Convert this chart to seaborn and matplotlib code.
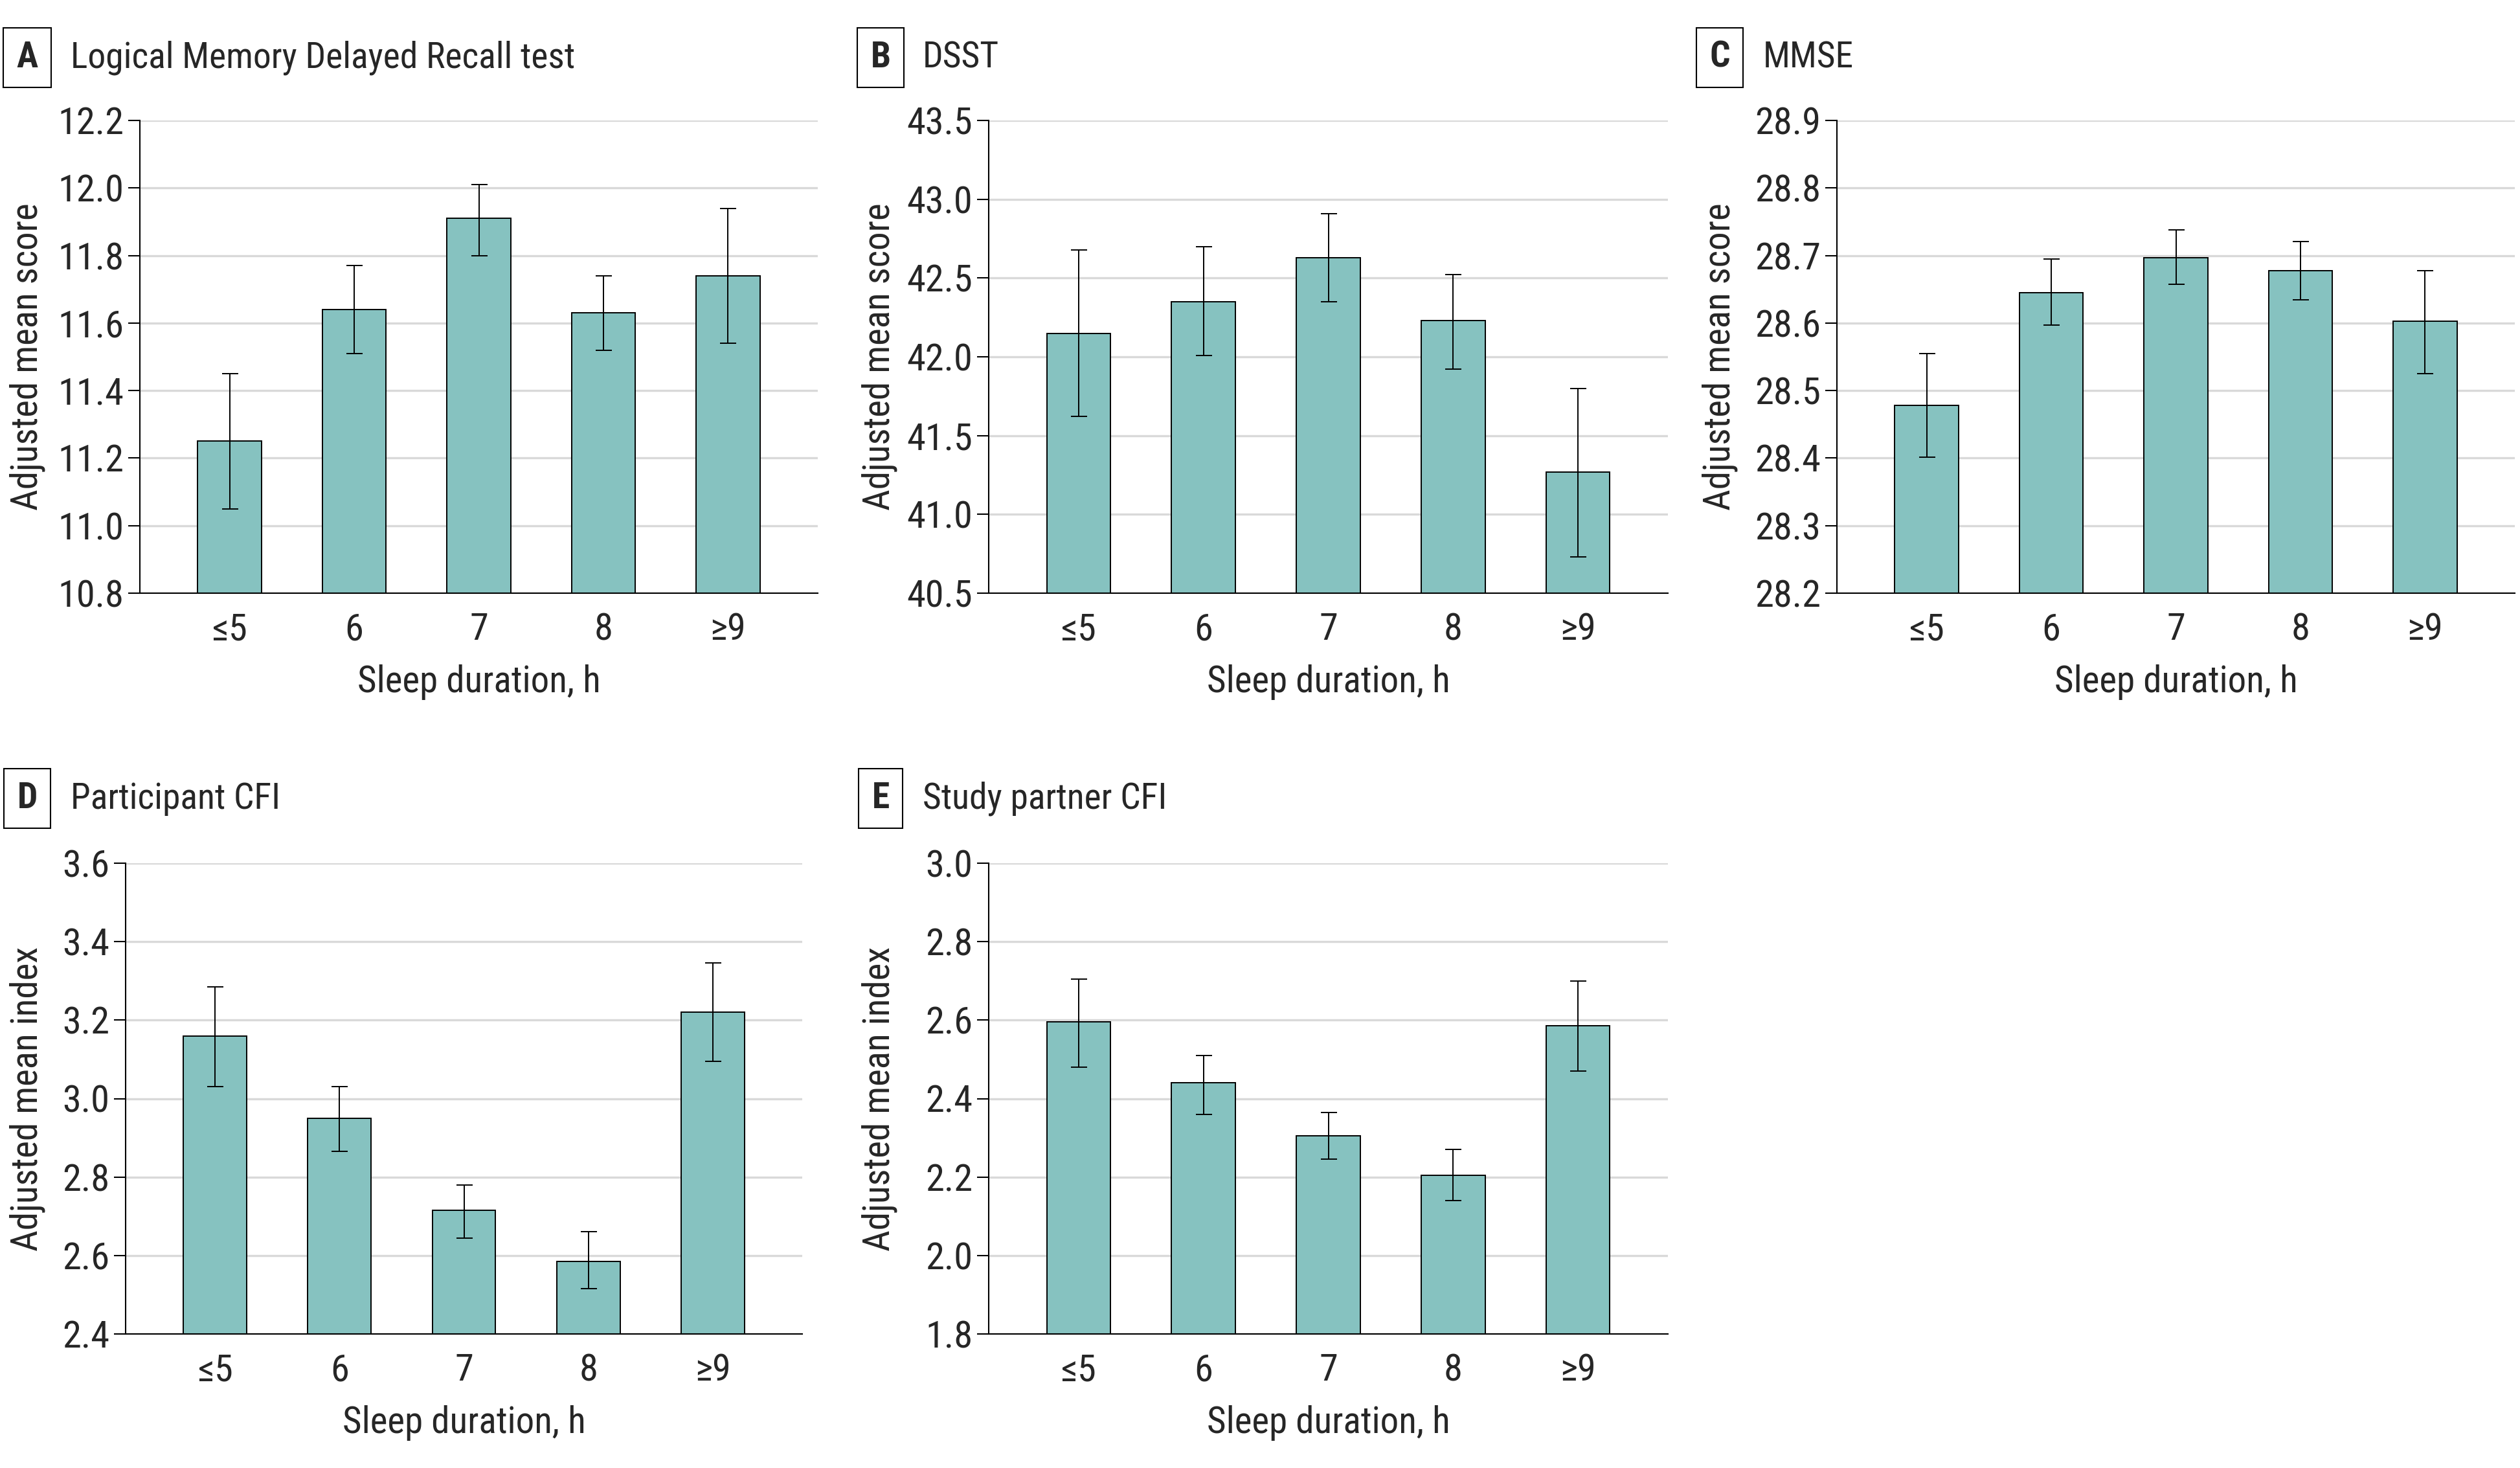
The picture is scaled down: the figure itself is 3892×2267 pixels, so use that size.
import matplotlib
matplotlib.use("Agg")
import matplotlib.pyplot as plt
from matplotlib import font_manager as fm
import seaborn as sns
import numpy as np
import pandas as pd

# ---------------- data ----------------
categories = ["≤5", "6", "7", "8", "≥9"]

lm_mean = [11.25, 11.64, 11.91, 11.63, 11.74]
lm_lo = [11.05, 11.51, 11.80, 11.52, 11.54]
lm_hi = [11.45, 11.77, 12.01, 11.74, 11.94]

dsst_mean = [42.15, 42.35, 42.63, 42.23, 41.27]
dsst_lo = [41.62, 42.01, 42.35, 41.92, 40.73]
dsst_hi = [42.68, 42.70, 42.91, 42.52, 41.80]

mmse_mean = [28.478, 28.645, 28.697, 28.678, 28.603]
mmse_lo = [28.401, 28.597, 28.657, 28.634, 28.525]
mmse_hi = [28.555, 28.695, 28.738, 28.721, 28.678]

pcfi_mean = [3.16, 2.95, 2.715, 2.585, 3.22]
pcfi_lo = [3.03, 2.865, 2.645, 2.515, 3.095]
pcfi_hi = [3.285, 3.03, 2.78, 2.66, 3.345]

scfi_mean = [2.595, 2.44, 2.305, 2.205, 2.585]
scfi_lo = [2.48, 2.36, 2.245, 2.14, 2.47]
scfi_hi = [2.705, 2.51, 2.365, 2.27, 2.70]

titles = ["Logical Memory Delayed Recall test", "DSST", "MMSE",
          "Participant CFI", "Study partner CFI"]
letters = ["A", "B", "C", "D", "E"]
ylabels = ["Adjusted mean score", "Adjusted mean score", "Adjusted mean score",
           "Adjusted mean index", "Adjusted mean index"]
yticks_list = [
    [10.8, 11.0, 11.2, 11.4, 11.6, 11.8, 12.0, 12.2],
    [40.5, 41.0, 41.5, 42.0, 42.5, 43.0, 43.5],
    [28.2, 28.3, 28.4, 28.5, 28.6, 28.7, 28.8, 28.9],
    [2.4, 2.6, 2.8, 3.0, 3.2, 3.4, 3.6],
    [1.8, 2.0, 2.2, 2.4, 2.6, 2.8, 3.0],
]

means = [lm_mean, dsst_mean, mmse_mean, pcfi_mean, scfi_mean]
los = [lm_lo, dsst_lo, mmse_lo, pcfi_lo, scfi_lo]
his = [lm_hi, dsst_hi, mmse_hi, pcfi_hi, scfi_hi]

# ---------------- font choice: a narrow face if one is installed ----------------
ttf = fm.fontManager.ttflist
names = {f.name for f in ttf}
main_font = None
stretch = "normal"
for cand in ["Roboto Condensed", "Liberation Sans Narrow", "Open Sans Condensed",
             "Noto Sans Condensed", "DejaVu Sans Condensed"]:
    if cand in names:
        main_font = cand
        break
if main_font is None:
    for fam in ["Roboto", "Noto Sans", "Open Sans", "DejaVu Sans", "Lato", "Inter"]:
        if any(f.name == fam and f.stretch in ("condensed", "semi-condensed",
                                               "extra-condensed", 75, 87.5)
               for f in ttf):
            main_font = fam
            stretch = "condensed"
            break
if main_font is None:
    main_font = "Roboto" if "Roboto" in names else "DejaVu Sans"

# ---------------- style ----------------
sns.set_style("white")
FONT = [main_font, "DejaVu Sans"]
plt.rcParams["font.family"] = FONT
plt.rcParams["font.stretch"] = stretch

W, H = 3892, 2267
DPI = 100
fig = plt.figure(figsize=(W / DPI, H / DPI), dpi=DPI)
fig.patch.set_facecolor("white")

BAR = "#86C2C0"
GRID = "#D9D9D9"
FS_TICK = 42
FS_LAB = 41

# axes pixel boxes: left, right, top, bottom
boxes = [
    (216, 1263, 186, 916),
    (1527, 2576, 186, 916),
    (2837, 3884, 186, 916),
    (194, 1239, 1333, 2060),
    (1527, 2576, 1333, 2060),
]
title_pos = [
    (42, 89, 109), (1360, 89, 1425), (2656, 89, 2723),
    (42, 1233, 109), (1360, 1233, 1425),
]
ylabel_x = [70, 1386, 2684, 70, 1386]

for i in range(5):
    l, r, t, b = boxes[i]
    ax = fig.add_axes([l / W, 1 - b / H, (r - l) / W, (b - t) / H])
    df = pd.DataFrame({"Sleep": categories, "Value": means[i]})
    sns.barplot(data=df, x="Sleep", y="Value", ax=ax, color=BAR,
                saturation=1, width=0.51, edgecolor="black", linewidth=1.4,
                errorbar=None, zorder=3)
    m = np.array(means[i])
    err = np.vstack([m - np.array(los[i]), np.array(his[i]) - m])
    ax.errorbar(np.arange(len(categories)), m, yerr=err, fmt="none",
                ecolor="black", elinewidth=1.4, capsize=9, capthick=1.4,
                zorder=4)
    yt = yticks_list[i]
    ax.set_ylim(yt[0], yt[-1])
    ax.set_yticks(yt)
    ax.set_yticklabels(["{:.1f}".format(v) for v in yt])
    ax.set_xlim(-0.72, 4.72)
    ax.yaxis.grid(True, color=GRID, linewidth=2.4, zorder=0)
    ax.xaxis.grid(False)
    ax.set_axisbelow(True)
    for s in ["top", "right"]:
        ax.spines[s].set_visible(False)
    for s in ["left", "bottom"]:
        ax.spines[s].set_color("black")
        ax.spines[s].set_linewidth(1.5)
        ax.spines[s].set_zorder(5)
    ax.tick_params(axis="y", length=13, width=1.5, color="black",
                   labelsize=FS_TICK, pad=5, left=True)
    ax.tick_params(axis="x", length=0, labelsize=FS_TICK, pad=21)
    ax.set_xlabel("Sleep duration, h", fontsize=FS_LAB)
    ax.xaxis.set_label_coords(0.5, -110 / (b - t))
    ax.set_ylabel(ylabels[i], fontsize=FS_LAB)
    ax.yaxis.set_label_coords((ylabel_x[i] - l) / (r - l), 0.5)
    # panel title
    bx, by, tx = title_pos[i]
    fig.text(bx / W, 1 - by / H, letters[i], fontsize=40, fontweight="bold",
             ha="center", va="center",
             bbox=dict(boxstyle="square,pad=0.36", facecolor="white",
                       edgecolor="black", linewidth=1.5))
    fig.text(tx / W, 1 - by / H, titles[i], fontsize=40, ha="left",
             va="center")

fig.savefig("out.png", dpi=DPI, facecolor="white")
